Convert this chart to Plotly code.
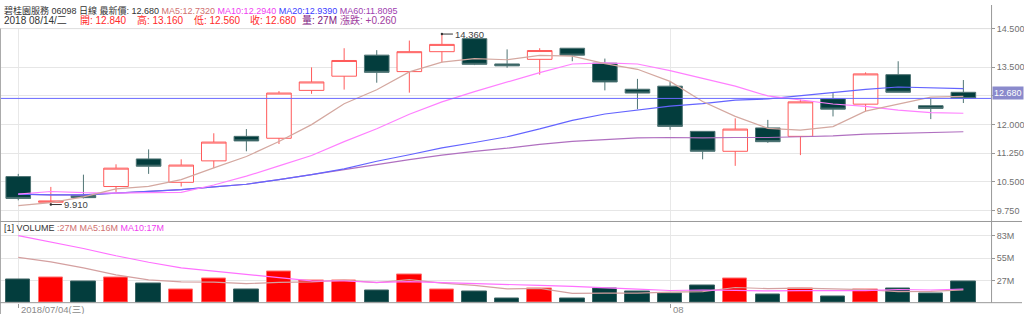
import plotly.graph_objects as go

W, H = 1024, 314

# ---------------- data ----------------
dates = ["2018-07-04", "2018-07-05", "2018-07-06", "2018-07-09", "2018-07-10", "2018-07-11",
         "2018-07-12", "2018-07-13", "2018-07-16", "2018-07-17", "2018-07-18", "2018-07-19",
         "2018-07-20", "2018-07-23", "2018-07-24", "2018-07-25", "2018-07-26", "2018-07-27",
         "2018-07-30", "2018-07-31", "2018-08-01", "2018-08-02", "2018-08-03", "2018-08-06",
         "2018-08-07", "2018-08-08", "2018-08-09", "2018-08-10", "2018-08-13", "2018-08-14"]

opens = [10.64, 9.97, 10.15, 10.38, 11.10, 10.49, 11.05, 11.69, 11.64, 12.89,
         13.26, 13.81, 13.38, 13.90, 14.24, 13.58, 13.70, 13.99, 13.60, 12.92,
         13.00, 11.82, 11.30, 11.91, 11.69, 12.67, 12.53, 13.30, 12.49, 12.84]
highs = [10.71, 10.37, 10.69, 10.96, 11.35, 11.09, 11.77, 11.88, 12.87, 13.49,
         13.99, 13.94, 14.19, 14.36, 14.24, 13.96, 13.99, 13.99, 13.72, 13.19,
         13.11, 11.82, 12.16, 12.12, 12.65, 12.82, 13.36, 13.65, 12.68, 13.16]
lows = [10.02, 9.91, 10.07, 10.24, 10.71, 10.38, 10.86, 11.30, 11.49, 12.80,
        12.91, 13.09, 12.83, 13.62, 13.55, 13.48, 13.30, 13.65, 12.89, 12.40,
        11.86, 11.09, 10.92, 11.52, 11.20, 12.21, 12.34, 12.84, 12.14, 12.56]
closes = [10.07, 10.00, 10.09, 10.86, 10.91, 10.94, 11.54, 11.57, 12.82, 13.11,
          13.67, 13.36, 13.90, 14.09, 13.57, 13.53, 13.93, 13.81, 13.11, 12.82,
          11.95, 11.30, 11.88, 11.55, 12.59, 12.40, 13.32, 12.84, 12.42, 12.68]
volumes_m = [29.1, 31.5, 25.8, 30.7, 24.2, 16.9, 29.8, 16.1, 38.9, 27.0,
             27.4, 15.2, 34.7, 16.9, 13.3, 5.5, 17.7, 4.7, 17.7, 14.0,
             11.6, 21.0, 29.8, 10.4, 17.7, 7.2, 16.1, 17.3, 11.6, 26.7]

ma5 = [9.88, 9.96, 10.11, 10.32, 10.386, 10.56, 10.868, 11.164, 11.556, 11.996,
       12.542, 12.906, 13.372, 13.626, 13.718, 13.69, 13.804, 13.786, 13.59, 13.44,
       13.124, 12.598, 12.212, 11.90, 11.854, 11.944, 12.348, 12.54, 12.714, 12.732]
ma10 = [10.18, 10.25, 10.22, 10.21, 10.22, 10.23, 10.42, 10.65, 10.92, 11.191,
        11.551, 11.887, 12.268, 12.591, 12.857, 13.116, 13.355, 13.579, 13.608, 13.579,
        13.407, 13.201, 12.999, 12.745, 12.647, 12.534, 12.473, 12.376, 12.307, 12.293]
ma20 = [10.18, 10.16, 10.16, 10.21, 10.26, 10.30, 10.37, 10.44, 10.56, 10.69,
        10.84, 11.04, 11.21, 11.39, 11.53, 11.68, 11.884, 12.108, 12.273, 12.385,
        12.479, 12.544, 12.634, 12.668, 12.752, 12.825, 12.914, 12.978, 12.958, 12.936]
ma60 = [10.18, 10.16, 10.16, 10.21, 10.26, 10.30, 10.37, 10.44, 10.56, 10.69,
        10.83, 10.95, 11.08, 11.20, 11.30, 11.38, 11.48, 11.56, 11.61, 11.65,
        11.66, 11.65, 11.66, 11.66, 11.68, 11.70, 11.75, 11.77, 11.79, 11.81]
vol_ma5 = [56.0, 50.5, 43.0, 34.5, 28.3, 25.8, 25.5, 23.5, 25.2, 25.7,
           27.8, 24.9, 28.6, 24.2, 21.5, 17.1, 17.6, 11.6, 11.8, 11.9,
           13.1, 13.8, 18.8, 17.4, 18.1, 17.2, 16.2, 13.7, 14.0, 15.8]
vol_ma10 = [83.0, 75.0, 67.0, 58.0, 50.0, 43.0, 39.0, 35.0, 31.0, 27.0,
            26.8, 25.2, 26.1, 24.7, 23.6, 22.5, 21.3, 20.1, 18.0, 16.7,
            15.1, 15.7, 15.2, 14.6, 15.0, 15.2, 15.0, 16.3, 15.7, 16.9]

price_tick_vals = [9.75, 10.5, 11.25, 12.0, 12.75, 13.5, 14.5]
price_tick_text = ["9.750", "10.500", "11.250", "12.000", "", "13.500", "14.500"]
vol_tick_vals = [27, 55, 83]
vol_tick_text = ["27M", "55M", "83M"]
date_tick_idx = [0, 20]
date_tick_text = ["2018/07/04(三)", "08"]

# header line 1 and volume header: flowing text pieces (text, colour)
header1 = [("碧桂園服務 06098 日線 最新價: 12.680 ", "#333333"),
           ("MA5:12.7320 ", "#d07070"), ("MA10:12.2940 ", "#f040f0"),
           ("MA20:12.9390 ", "#3c3cff"), ("MA60:11.8095", "#a040b0")]
vol_header = [("[1] VOLUME ", "#333333"), (":27M MA5:16M ", "#d07070"),
              ("MA10:17M", "#f040f0")]
# header line 2: (text, left x in px, colour)
header2 = [("2018 08/14/二", 2, "#333333"), ("開: 12.840", 78, "#ff2a2a"),
           ("高: 13.160", 135, "#ff2a2a"), ("低: 12.560", 192, "#ff2a2a"),
           ("收: 12.680", 248, "#ff2a2a"), ("量: 27M", 301, "#802080"),
           ("漲跌: +0.260", 339, "#a040a0")]

# ---------------- geometry helpers ----------------
def px(xp):
    return xp / W

def py(yp):
    return 1 - yp / H

FONT = "Liberation Sans, Noto Sans CJK TC, sans-serif"
x = list(range(len(closes)))
XR = [-0.56, 29.85]
XDOM = [0, px(993)]

UP_LINE = "#ff5a5a"
DN_FILL = "#033d3d"
DN_LINE = "#4f7474"

fig = go.Figure()

fig.add_trace(go.Candlestick(
    x=x, open=opens, high=highs, low=lows, close=closes,
    increasing=dict(line=dict(color=UP_LINE, width=1), fillcolor="#ffffff"),
    decreasing=dict(line=dict(color=DN_LINE, width=1), fillcolor=DN_FILL),
    whiskerwidth=0, xaxis="x", yaxis="y", showlegend=False, hoverinfo="skip"))

for vals, col in [(ma60, "#b070c0"), (ma20, "#6464ff"), (ma10, "#ff80ff"), (ma5, "#d4a8a0")]:
    fig.add_trace(go.Scatter(x=x, y=vals, mode="lines", line=dict(color=col, width=1.2),
                             xaxis="x", yaxis="y", showlegend=False, hoverinfo="skip"))

vcol = ["#ff0000" if c >= o else DN_FILL for o, c in zip(opens, closes)]
vline = ["#ff7070" if c >= o else "#3d6464" for o, c in zip(opens, closes)]
fig.add_trace(go.Bar(x=x, y=volumes_m, width=0.75,
                     marker=dict(color=vcol, line=dict(color=vline, width=1)),
                     xaxis="x2", yaxis="y2", showlegend=False, hoverinfo="skip"))
for vals, col in [(vol_ma5, "#d4a0a0"), (vol_ma10, "#ff70ff")]:
    fig.add_trace(go.Scatter(x=x, y=vals, mode="lines", line=dict(color=col, width=1.2),
                             xaxis="x2", yaxis="y2", showlegend=False, hoverinfo="skip"))

# ---------------- annotations ----------------
ann = []
for pieces, yc, fs in [(header1, 5.5, 9), (vol_header, 226.5, 9)]:
    txt = "".join(f'<span style="color:{c}">{t}</span>' for t, c in pieces)
    ann.append(dict(text=txt, x=px(2), y=py(yc), xref="paper", yref="paper",
                    xanchor="left", yanchor="middle", showarrow=False,
                    font=dict(family=FONT, size=fs, color="#333333")))
for txt, xx, col in header2:
    ann.append(dict(text=txt, x=px(xx), y=py(15.5), xref="paper", yref="paper",
                    xanchor="left", yanchor="middle", showarrow=False,
                    font=dict(family=FONT, size=10, color=col)))
for idx, txt in zip(date_tick_idx, date_tick_text):
    ann.append(dict(text=txt, x=idx, y=py(309), xref="x2", yref="paper",
                    xanchor="left", yanchor="middle", showarrow=False, xshift=1,
                    font=dict(family=FONT, size=9.5, color="#8a8a8a")))

hi_i = max(range(len(highs)), key=lambda i: highs[i])
lo_i = min(range(len(lows)), key=lambda i: lows[i])
for idx, val in [(hi_i, highs[hi_i]), (lo_i, lows[lo_i])]:
    ann.append(dict(text=f"{val:.3f}", x=idx, y=val, xref="x", yref="y",
                    ax=11, ay=0, xanchor="left", yanchor="middle", showarrow=True,
                    arrowhead=6, arrowsize=0.6, arrowwidth=1, arrowcolor="#333333",
                    standoff=0, font=dict(family=FONT, size=9.5, color="#444444")))

ann.append(dict(text=f"{closes[-1]:.3f}", x=px(994), y=closes[-1], xref="paper", yref="y",
                xanchor="left", yanchor="middle", showarrow=False, yshift=5,
                bgcolor="#8a8acc", borderpad=1,
                font=dict(family=FONT, size=9, color="#ffffff")))

# ---------------- shapes (frame) ----------------
shapes = [
    dict(type="line", xref="x domain", yref="y", x0=0, x1=1, y0=closes[-1], y1=closes[-1],
         line=dict(color="#6a6aff", width=1)),
    dict(type="line", xref="paper", yref="paper", x0=0, x1=px(993), y0=py(24), y1=py(24),
         line=dict(color="#dddddd", width=1)),
    dict(type="line", xref="paper", yref="paper", x0=px(0.5), x1=px(0.5), y0=py(24), y1=0,
         line=dict(color="#aaaaaa", width=1)),
    dict(type="line", xref="paper", yref="paper", x0=px(993.5), x1=px(993.5), y0=1, y1=py(302.5),
         line=dict(color="#999999", width=1)),
    dict(type="line", xref="paper", yref="paper", x0=0, x1=1, y0=py(220), y1=py(220),
         line=dict(color="#999999", width=1)),
    dict(type="line", xref="paper", yref="paper", x0=0, x1=1, y0=py(302.5), y1=py(302.5),
         line=dict(color="#999999", width=1)),
]

fig.update_layout(
    width=W, height=H, margin=dict(l=0, r=0, t=0, b=0),
    paper_bgcolor="#ffffff", plot_bgcolor="#ffffff",
    showlegend=False, boxgap=0.245, boxgroupgap=0, bargap=0,
    xaxis=dict(domain=XDOM, range=XR, anchor="y", tickvals=date_tick_idx,
               showticklabels=False, showgrid=True, gridcolor="#e8e8e8", gridwidth=1,
               zeroline=False, ticks="", rangeslider=dict(visible=False), fixedrange=True),
    yaxis=dict(domain=[py(219), py(24)], range=[9.493, 14.502], side="right", anchor="x",
               tickvals=price_tick_vals, ticktext=price_tick_text, showgrid=True,
               gridcolor="#e6e6e6", zeroline=False, ticks="outside", ticklen=3,
               tickcolor="#999999", tickfont=dict(family=FONT, size=9, color="#707070")),
    xaxis2=dict(domain=XDOM, range=XR, anchor="y2", matches="x", tickvals=date_tick_idx,
                showticklabels=False, showgrid=True, gridcolor="#e8e8e8",
                zeroline=False, ticks="outside", ticklen=4, tickcolor="#999999"),
    yaxis2=dict(domain=[py(302.5), py(220)], range=[0, 100.4], side="right", anchor="x2",
                tickvals=vol_tick_vals, ticktext=vol_tick_text, showgrid=True,
                gridcolor="#e6e6e6", zeroline=False, ticks="outside", ticklen=3,
                tickcolor="#999999", tickfont=dict(family=FONT, size=9, color="#707070")),
    annotations=ann, shapes=shapes,
)

fig.write_html("out.html")
